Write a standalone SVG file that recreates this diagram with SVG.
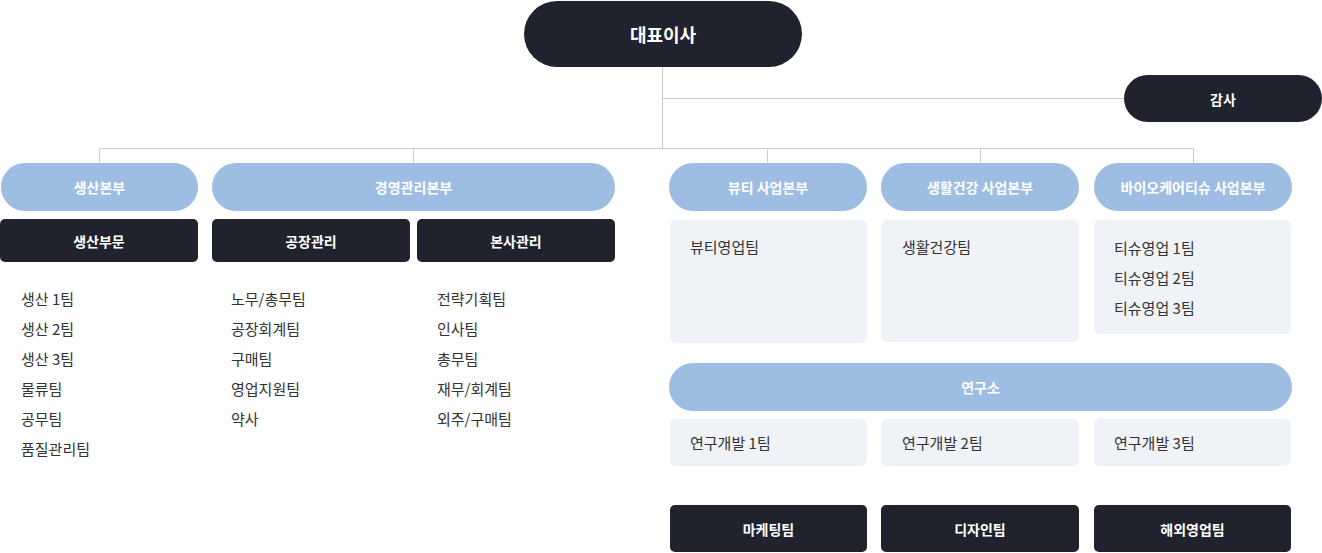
<svg xmlns="http://www.w3.org/2000/svg" width="1322" height="553" viewBox="0 0 1322 553">
<style>
text{font-family:"Noto Sans CJK KR","Noto Sans",sans-serif}
.dark{fill:#20232e}
.pill{fill:#9dbde3}
.box{fill:#eff2f7}
.ghost{fill:#fefefe}
.lw{fill:#ffffff;font-size:14px;font-weight:700;text-anchor:middle;dominant-baseline:central}
.lt{fill:#333333;font-size:15px;dominant-baseline:central}
.ln{stroke:#cccccc;stroke-width:1;fill:none}
</style>
<rect width="1322" height="553" fill="#ffffff"/>
<g id="connectors">
<path class="ln" d="M662.5 67V148.5M662.5 98.5H1124M99.5 148.5H1193.5M99.5 148.5V163M413.5 148.5V163M767.5 148.5V163M980.5 148.5V163M1193.5 148.5V163"/>
</g>
<g id="ceo"><rect class="dark" x="524" y="1" width="278" height="66" rx="33"/><text class="lw" x="663" y="34" style="font-size:18px">대표이사</text></g>
<g id="audit"><rect class="dark" x="1124" y="75" width="198" height="47" rx="23.5"/><text class="lw" x="1223" y="99">감사</text></g>

<g id="production">
<rect class="pill" x="1" y="163" width="197" height="48" rx="24"/><text class="lw" x="99.5" y="187">생산본부</text>
<rect class="dark" x="0" y="219" width="198" height="43" rx="5"/><text class="lw" x="99" y="240.5">생산부문</text>
<rect class="ghost" x="0" y="272" width="198" height="198" rx="5"/>
<text class="lt" x="21" y="298">생산 1팀</text>
<text class="lt" x="21" y="328">생산 2팀</text>
<text class="lt" x="21" y="358">생산 3팀</text>
<text class="lt" x="21" y="388">물류팀</text>
<text class="lt" x="21" y="418">공무팀</text>
<text class="lt" x="21" y="448">품질관리팀</text>
</g>

<g id="management">
<rect class="pill" x="212" y="163" width="403" height="48" rx="24"/><text class="lw" x="413.5" y="187">경영관리본부</text>
</g>
<g id="factory">
<rect class="dark" x="212" y="219" width="198" height="43" rx="5"/><text class="lw" x="311" y="240.5">공장관리</text>
<rect class="ghost" x="212" y="272" width="198" height="198" rx="5"/>
<text class="lt" x="231" y="298">노무/총무팀</text>
<text class="lt" x="231" y="328">공장회계팀</text>
<text class="lt" x="231" y="358">구매팀</text>
<text class="lt" x="231" y="388">영업지원팀</text>
<text class="lt" x="231" y="418">약사</text>
</g>
<g id="hq">
<rect class="dark" x="417" y="219" width="198" height="43" rx="5"/><text class="lw" x="516" y="240.5">본사관리</text>
<rect class="ghost" x="417" y="272" width="198" height="198" rx="5"/>
<text class="lt" x="437" y="298">전략기획팀</text>
<text class="lt" x="437" y="328">인사팀</text>
<text class="lt" x="437" y="358">총무팀</text>
<text class="lt" x="437" y="388">재무/회계팀</text>
<text class="lt" x="437" y="418">외주/구매팀</text>
</g>

<g id="beauty">
<rect class="pill" x="669" y="163" width="198" height="48" rx="24"/><text class="lw" x="768" y="187">뷰티 사업본부</text>
<rect class="box" x="670" y="220" width="197" height="123" rx="6"/>
<text class="lt" x="690" y="246">뷰티영업팀</text>
</g>
<g id="health">
<rect class="pill" x="881" y="163" width="198" height="48" rx="24"/><text class="lw" x="980" y="187">생활건강 사업본부</text>
<rect class="box" x="881" y="220" width="198" height="122" rx="6"/>
<text class="lt" x="902" y="246">생활건강팀</text>
</g>
<g id="bio">
<rect class="pill" x="1094" y="163" width="198" height="48" rx="24"/><text class="lw" x="1193" y="187">바이오케어티슈 사업본부</text>
<rect class="box" x="1094" y="220" width="197" height="114" rx="6"/>
<text class="lt" x="1114" y="247">티슈영업 1팀</text>
<text class="lt" x="1114" y="277">티슈영업 2팀</text>
<text class="lt" x="1114" y="307">티슈영업 3팀</text>
</g>

<g id="lab">
<rect class="pill" x="669" y="363" width="623" height="48" rx="24"/><text class="lw" x="980.5" y="387">연구소</text>
</g>
<g id="rd1"><rect class="box" x="670" y="419" width="197" height="47" rx="6"/><text class="lt" x="690" y="442">연구개발 1팀</text></g>
<g id="rd2"><rect class="box" x="881" y="419" width="198" height="47" rx="6"/><text class="lt" x="902" y="442">연구개발 2팀</text></g>
<g id="rd3"><rect class="box" x="1094" y="419" width="197" height="47" rx="6"/><text class="lt" x="1114" y="442">연구개발 3팀</text></g>

<g id="marketing"><rect class="dark" x="670" y="505" width="197" height="47" rx="5"/><text class="lw" x="768.5" y="528.5">마케팅팀</text></g>
<g id="design"><rect class="dark" x="881" y="505" width="198" height="47" rx="5"/><text class="lw" x="980" y="528.5">디자인팀</text></g>
<g id="overseas"><rect class="dark" x="1094" y="505" width="197" height="47" rx="5"/><text class="lw" x="1192.5" y="528.5">해외영업팀</text></g>
</svg>
